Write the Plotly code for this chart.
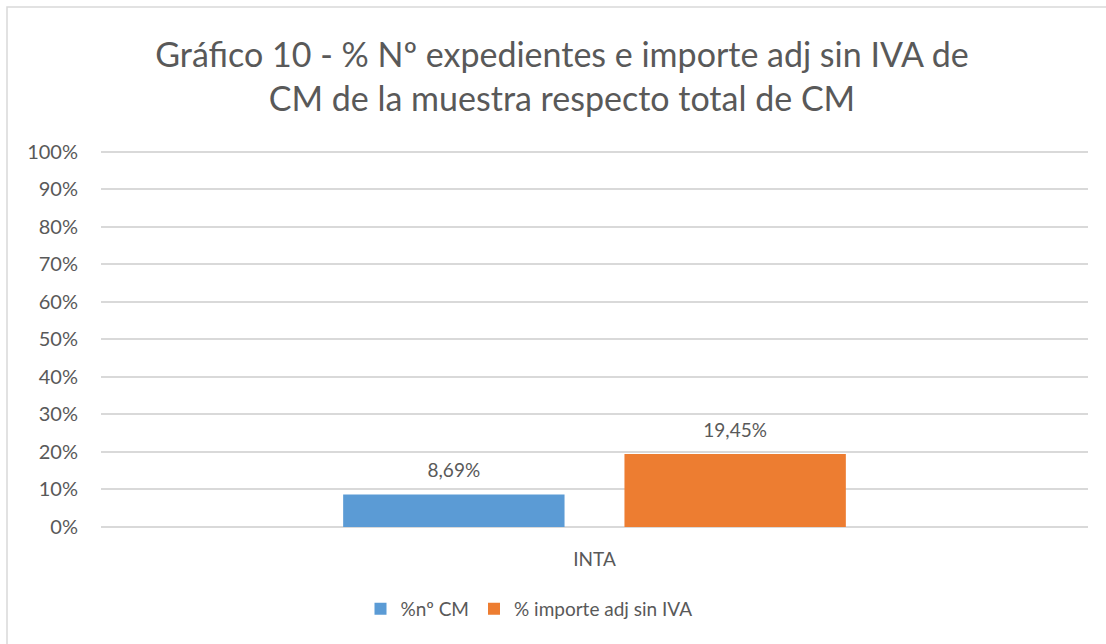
import plotly.graph_objects as go

categories = ["INTA"]
series_names = ["%nº CM", "% importe adj sin IVA"]
pct_num_cm = [0.0869]
pct_importe = [0.1945]
colors = ["#5B9BD5", "#ED7D31"]
y_ticks = [0, 0.1, 0.2, 0.3, 0.4, 0.5, 0.6, 0.7, 0.8, 0.9, 1.0]

FONT = "Lato"
TXT = "#595959"
PH = 379  # plot height in px

fig = go.Figure()
for name, vals, col in zip(series_names, [pct_num_cm, pct_importe], colors):
    fig.add_trace(go.Bar(
        x=categories, y=vals, name=name, marker_color=col,
        marker_line_width=0, offsetgroup=name,
    ))
for name, vals in zip(series_names, [pct_num_cm, pct_importe]):
    fig.add_trace(go.Scatter(
        x=categories, y=vals, mode="markers+text", offsetgroup=name,
        texttemplate="%{y:.2%}", textposition="top center",
        textfont=dict(family=FONT, size=19, color=TXT),
        marker=dict(size=18, opacity=0), showlegend=False,
        hoverinfo="skip", cliponaxis=False,
    ))

fig.update_layout(
    width=1106, height=644,
    margin=dict(l=101, r=18, t=148, b=117),
    paper_bgcolor="white", plot_bgcolor="white",
    separators=",.",
    barmode="group", bargap=0.43, bargroupgap=0.213,
    scattermode="group", scattergap=0.43,
    title=dict(
        text="Gráfico 10 - % Nº expedientes e importe adj sin IVA de<br>CM de la muestra respecto total de CM",
        x=562 / 1106, xanchor="center", y=1 - 67 / 644, yanchor="middle",
        font=dict(family=FONT, size=34, color=TXT),
    ),
    font=dict(family=FONT, color=TXT),
    showlegend=True,
    legend=dict(
        orientation="h", x=(529 - 101) / 987, xanchor="center",
        y=(527 - 609) / PH, yanchor="middle",
        font=dict(family=FONT, size=19, color=TXT),
        itemwidth=30, traceorder="normal",
    ),
    xaxis=dict(
        showgrid=False, showline=False, ticks="",
        tickfont=dict(family=FONT, size=19, color=TXT),
        ticklabelstandoff=19,
    ),
    yaxis=dict(
        range=[0, 1.01], tickvals=y_ticks, tickformat=".0%",
        showgrid=True, gridcolor="#D9D9D9", gridwidth=1.5,
        zeroline=True, zerolinecolor="#D9D9D9", zerolinewidth=1.5,
        showline=False, ticks="",
        tickfont=dict(family=FONT, size=20, color=TXT),
        ticklabelstandoff=22,
    ),
    shapes=[dict(
        type="rect", xref="paper", yref="paper",
        x0=(7 - 101) / 987, x1=(1115 - 101) / 987,
        y0=(527 - 660) / PH, y1=(527 - 7) / PH,
        line=dict(color="#D9D9D9", width=1.5), fillcolor="rgba(0,0,0,0)",
        layer="below",
    )],
)

fig.write_html("out.html", config={"displayModeBar": False},
               post_script="document.body.style.margin='0';")
